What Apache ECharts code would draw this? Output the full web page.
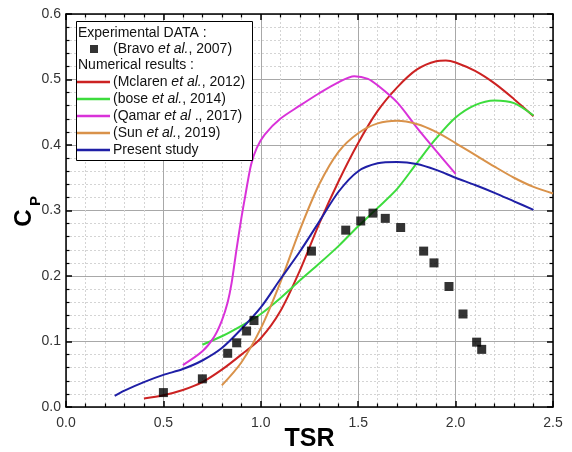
<!DOCTYPE html>
<html>
<head>
<meta charset="utf-8">
<script src="https://cdn.jsdelivr.net/npm/echarts@6/dist/echarts.min.js"></script>
<style>
  html, body { margin: 0; padding: 0; background: #fff; }
  #chart { width: 572px; height: 452px; }
</style>
</head>
<body>
<div id="chart"></div>
<script>
// Power coefficient vs tip speed ratio
const xTicks = [0, 0.5, 1.0, 1.5, 2.0, 2.5];
const yTicks = [0, 0.1, 0.2, 0.3, 0.4, 0.5, 0.6];

// Experimental points (Bravo et al., 2007)
const bravo = [
  [0.50, 0.022], [0.70, 0.043], [0.83, 0.082], [0.876, 0.098], [0.927, 0.116],
  [0.965, 0.132], [1.26, 0.238], [1.436, 0.270], [1.513, 0.284], [1.576, 0.296],
  [1.639, 0.288], [1.718, 0.274], [1.836, 0.238], [1.889, 0.220], [1.966, 0.184],
  [2.038, 0.142], [2.108, 0.099], [2.134, 0.088]
];

// Numerical results
const mclaren = [
  [0.4, 0.013], [0.5, 0.018], [0.6, 0.026], [0.7, 0.038], [0.8, 0.057], [0.9, 0.080],
  [1.0, 0.105], [1.1, 0.146], [1.2, 0.208], [1.3, 0.280], [1.4, 0.345], [1.5, 0.403],
  [1.6, 0.452], [1.7, 0.488], [1.8, 0.515], [1.9, 0.528], [1.95, 0.529], [2.0, 0.526],
  [2.1, 0.513], [2.2, 0.494], [2.3, 0.470], [2.4, 0.444]
];
const bose = [
  [0.7, 0.095], [0.8, 0.108], [0.9, 0.124], [1.0, 0.142], [1.1, 0.166], [1.2, 0.193],
  [1.3, 0.219], [1.4, 0.246], [1.5, 0.276], [1.6, 0.304], [1.7, 0.333], [1.8, 0.372],
  [1.9, 0.410], [2.0, 0.442], [2.1, 0.461], [2.2, 0.468], [2.3, 0.464], [2.4, 0.445]
];
const qamar = [
  [0.6, 0.064], [0.7, 0.085], [0.76, 0.107], [0.8, 0.132], [0.83, 0.160], [0.85, 0.189],
  [0.875, 0.240], [0.9, 0.288], [0.92, 0.322], [0.95, 0.370], [0.98, 0.396], [1.02, 0.416],
  [1.1, 0.440], [1.2, 0.460], [1.3, 0.479], [1.4, 0.496], [1.48, 0.505], [1.55, 0.501],
  [1.6, 0.491], [1.7, 0.465], [1.8, 0.427], [1.9, 0.391], [2.0, 0.356]
];
const sun = [
  [0.8, 0.033], [0.9, 0.068], [1.0, 0.120], [1.1, 0.190], [1.2, 0.270], [1.3, 0.340],
  [1.4, 0.390], [1.5, 0.418], [1.6, 0.433], [1.7, 0.437], [1.8, 0.432], [1.9, 0.420],
  [2.0, 0.403], [2.1, 0.385], [2.2, 0.367], [2.3, 0.350], [2.4, 0.336], [2.5, 0.326]
];
const present = [
  [0.25, 0.017], [0.3, 0.025], [0.4, 0.038], [0.5, 0.049], [0.6, 0.058], [0.7, 0.071],
  [0.8, 0.090], [0.9, 0.119], [1.0, 0.152], [1.1, 0.195], [1.2, 0.237], [1.3, 0.283],
  [1.4, 0.329], [1.5, 0.360], [1.6, 0.372], [1.7, 0.374], [1.8, 0.371], [1.9, 0.362],
  [2.0, 0.350], [2.1, 0.339], [2.2, 0.327], [2.3, 0.314], [2.4, 0.301]
];

const FONT = 'Liberation Sans, Arial, sans-serif';

const lineDefs = [
  { name: 'Mclaren', label: '(Mclaren {i|et al.}, 2012)', data: mclaren, color: '#cc2222' },
  { name: 'bose', label: '(bose {i|et al.}, 2014)', data: bose, color: '#3ddc3d' },
  { name: 'Qamar', label: '(Qamar {i|et al} ., 2017)', data: qamar, color: '#d932d9' },
  { name: 'Sun', label: '(Sun {i|et al.}, 2019)', data: sun, color: '#d9924a' },
  { name: 'Present', label: 'Present study', data: present, color: '#1f1fa6' }
];
const labelOf = { Bravo: '(Bravo {i|et al.}, 2007)' };
lineDefs.forEach(d => { labelOf[d.name] = d.label; });

const legendText = {
  fontFamily: FONT, fontSize: 14, color: '#111', lineHeight: 14,
  rich: { i: { fontFamily: FONT, fontSize: 14, fontStyle: 'italic', color: '#111', lineHeight: 14 } }
};

function axisX(pos, showLabels) {
  return {
    type: 'value', position: pos, min: 0, max: 2.5, interval: 0.5,
    axisLine: { show: true, onZero: false, lineStyle: { color: '#000', width: 1.5 } },
    axisTick: { show: true, inside: true, length: 6, lineStyle: { color: '#000', width: 1.5 } },
    minorTick: { show: true, splitNumber: 5, length: 3.5, lineStyle: { color: '#000', width: 1.2 } },
    splitLine: { show: showLabels, lineStyle: { color: '#a8a8a8', width: 1 } },
    minorSplitLine: { show: showLabels, lineStyle: { color: '#d4d4d4', width: 1, type: [2, 2] } },
    axisLabel: {
      show: showLabels, margin: 9, color: '#333', fontFamily: FONT, fontSize: 14,
      formatter: v => v.toFixed(1)
    },
    name: showLabels ? 'TSR' : '', nameLocation: 'middle', nameGap: 20, nameMoveOverlap: false,
    nameTextStyle: { fontFamily: FONT, fontSize: 25, fontWeight: 'bold', color: '#000' }
  };
}
function axisY(pos, showLabels) {
  return {
    type: 'value', position: pos, min: 0, max: 0.6, interval: 0.1,
    axisLine: { show: true, onZero: false, lineStyle: { color: '#000', width: 1.5 } },
    axisTick: { show: true, inside: true, length: 6, lineStyle: { color: '#000', width: 1.5 } },
    minorTick: { show: true, splitNumber: 5, length: 3.5, lineStyle: { color: '#000', width: 1.2 } },
    splitLine: { show: showLabels, lineStyle: { color: '#a8a8a8', width: 1 } },
    minorSplitLine: { show: showLabels, lineStyle: { color: '#d4d4d4', width: 1, type: [2, 2] } },
    axisLabel: {
      show: showLabels, margin: 5, color: '#333', fontFamily: FONT, fontSize: 14,
      formatter: v => v.toFixed(1)
    }
  };
}

const series = [{
  name: 'Bravo', type: 'scatter', data: bravo, symbol: 'rect', symbolSize: 9,
  itemStyle: { color: '#000' }, z: 5
}].concat(lineDefs.map(d => ({
  name: d.name, type: 'line', data: d.data, smooth: 0.3, symbol: 'none',
  lineStyle: { color: d.color, width: 2 }, itemStyle: { color: d.color }, z: 3
})));

const chart = echarts.init(document.getElementById('chart'), null, { renderer: 'canvas' });
chart.setOption({
  animation: false,
  backgroundColor: '#fff',
  grid: { left: 66, right: 19, top: 14, bottom: 45, containLabel: false, outerBoundsMode: 'none' },
  xAxis: [axisX('bottom', true), axisX('top', false)],
  yAxis: [axisY('left', true), axisY('right', false)],
  graphic: [
    // y-axis title C_P, rotated
    { type: 'text', x: 24, y: 218, rotation: Math.PI / 2,
      style: { text: 'C', fontFamily: FONT, fontSize: 24, fontWeight: 'bold', fill: '#000', align: 'center', verticalAlign: 'middle' } },
    { type: 'text', x: 36, y: 201, rotation: Math.PI / 2,
      style: { text: 'P', fontFamily: FONT, fontSize: 15, fontWeight: 'bold', fill: '#000', align: 'center', verticalAlign: 'middle' } },
    // legend frame and headings
    { type: 'rect', z: 10, shape: { x: 76.5, y: 21.5, width: 176, height: 139 },
      style: { fill: '#fff', stroke: '#000', lineWidth: 1 } },
    { type: 'text', z: 11, x: 78, y: 33,
      style: { text: 'Experimental DATA :', fontFamily: FONT, fontSize: 14, fill: '#111', verticalAlign: 'middle' } },
    { type: 'text', z: 11, x: 78, y: 65.5,
      style: { text: 'Numerical results :', fontFamily: FONT, fontSize: 14, fill: '#111', verticalAlign: 'middle' } }
  ],
  legend: [
    {
      z: 20, orient: 'vertical', left: 90, top: 42, padding: 0, itemWidth: 8, itemHeight: 8, itemGap: 3,
      data: [{ name: 'Bravo', icon: 'rect' }], selectedMode: false,
      formatter: n => labelOf[n], textStyle: Object.assign({ padding: [0, 0, 0, 10] }, legendText)
    },
    {
      z: 20, orient: 'vertical', left: 77, top: 75, padding: 0, itemWidth: 33, itemHeight: 2.5, itemGap: 3,
      icon: 'rect', data: lineDefs.map(d => d.name), selectedMode: false,
      formatter: n => labelOf[n], textStyle: Object.assign({ padding: [0, 0, 0, -2] }, legendText)
    }
  ],
  series: series
});
</script>
</body>
</html>
